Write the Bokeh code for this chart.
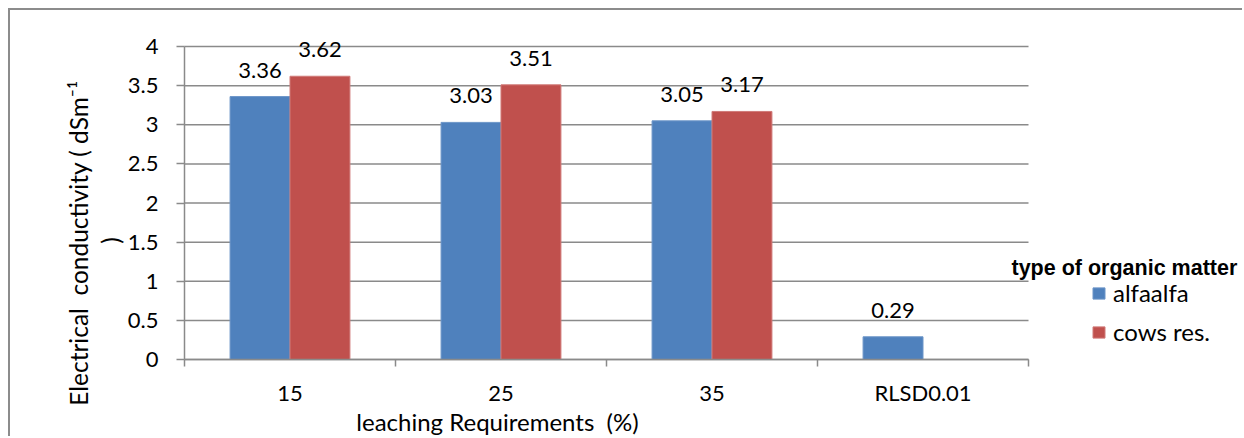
import math
from bokeh.plotting import figure
from bokeh.models import (Range1d, FixedTicker, NumeralTickFormatter, ColumnDataSource,
                          LabelSet, Label, Legend, LegendItem)
from bokeh.core.properties import value
from bokeh.embed import file_html
from bokeh.resources import INLINE

categories = ["15", "25", "35", "RLSD0.01"]
alfaalfa = [3.36, 3.03, 3.05, 0.29]
cows_res = [3.62, 3.51, 3.17, float("nan")]
alfa_labels = ["3.36", "3.03", "3.05", "0.29"]
cows_labels = ["3.62", "3.51", "3.17", ""]
y_ticks = [0, 0.5, 1, 1.5, 2, 2.5, 3, 3.5, 4]

BLUE = "#4F81BD"
RED = "#C0504D"
GRAY = "#8A8A8A"
FONT = "Lato"
NB = "\u00a0"

# canvas placement (px) and frame mapping: the frame covers the whole canvas
CANVAS_W, CANVAS_H = 1234, 428
PX_PER_X, PX_PER_Y = 211.0, 78.25
AXIS_LEFT, AXIS_BOTTOM = 174, 349  # canvas px of data x=0 / data y=0
ORIGIN_X, ORIGIN_Y = 184, 359      # page px of data x=0 / data y=0


def dx(px):
    return (px - ORIGIN_X) / PX_PER_X


def dy(py):
    return (ORIGIN_Y - py) / PX_PER_Y


p = figure(width=CANVAS_W, height=CANVAS_H, output_backend="svg", toolbar_location=None,
           x_range=Range1d(-AXIS_LEFT / PX_PER_X, (CANVAS_W - AXIS_LEFT) / PX_PER_X),
           y_range=Range1d(-(CANVAS_H - AXIS_BOTTOM) / PX_PER_Y, AXIS_BOTTOM / PX_PER_Y),
           min_border=0, min_border_left=0, min_border_right=0, min_border_top=0, min_border_bottom=0)
p.styles = {"margin-left": "8px", "margin-top": "8px",
            "border-left": "2px solid #8C8C8C", "border-top": "2px solid #8C8C8C"}
p.outline_line_color = None
p.xgrid.grid_line_color = None
p.ygrid.grid_line_color = None

n = len(categories)
centers = [i + 0.5 for i in range(n)]

# horizontal gridlines between the axis and the last category
p.segment(x0=[0] * len(y_ticks), x1=[n] * len(y_ticks), y0=y_ticks, y1=y_ticks,
          line_color=GRAY, line_width=1.5)

bw = 0.284
src_a = ColumnDataSource(dict(x=[c - 0.142 for c in centers], y=alfaalfa, lab=alfa_labels))
src_c = ColumnDataSource(dict(x=[c + 0.142 for c in centers],
                              y=[0 if math.isnan(v) else v for v in cows_res],
                              top=cows_res, lab=cows_labels))

r_a = p.vbar(x="x", top="y", width=bw, source=src_a, fill_color=BLUE, line_color="#6C95C8", line_width=1)
r_c = p.vbar(x="x", top="top", width=bw, source=src_c, fill_color=RED, line_color="#D07A78", line_width=1)

for src in (src_a, src_c):
    p.add_layout(LabelSet(x="x", y="y", text="lab", source=src, text_align="center",
                          text_baseline="alphabetic", y_offset=19, text_font=value(FONT),
                          text_font_size="22px", text_color="#000000"))

# axes, drawn at data 0
p.yaxis.fixed_location = 0
p.yaxis.bounds = (0, 4)
p.yaxis.ticker = FixedTicker(ticks=y_ticks)
p.yaxis.formatter = NumeralTickFormatter(format="0.[0]")
p.yaxis.major_label_text_font = FONT
p.yaxis.major_label_text_font_size = "22px"
p.yaxis.major_label_text_color = "#000000"
p.yaxis.major_label_standoff = 18
p.yaxis.major_tick_out = 8
p.yaxis.major_tick_in = 0
p.yaxis.minor_tick_line_color = None
p.yaxis.axis_line_color = GRAY
p.yaxis.major_tick_line_color = GRAY
p.yaxis.axis_line_width = 1.5
p.yaxis.major_tick_line_width = 1.5

p.xaxis.fixed_location = 0
p.xaxis.bounds = (0, n)
p.xaxis.ticker = FixedTicker(ticks=centers, minor_ticks=list(range(n + 1)))
p.xaxis.major_label_overrides = {c: name for c, name in zip(centers, categories)}
p.xaxis.major_label_text_font = FONT
p.xaxis.major_label_text_font_size = "22px"
p.xaxis.major_label_text_color = "#000000"
p.xaxis.major_label_standoff = 12
p.xaxis.major_tick_out = 0
p.xaxis.major_tick_in = 0
p.xaxis.minor_tick_out = 7
p.xaxis.minor_tick_in = 0
p.xaxis.minor_tick_line_color = GRAY
p.xaxis.minor_tick_line_width = 1.5
p.xaxis.axis_line_color = GRAY
p.xaxis.axis_line_width = 1.5

# axis titles
p.add_layout(Label(x=dx(78), y=dy(242.5), text=f"Electrical{NB} conductivity ( dSm\u207b\u00b9",
                   angle=math.pi / 2, text_align="center", text_baseline="middle",
                   text_font=FONT, text_font_size="24.5px", text_color="#000000"))
p.add_layout(Label(x=dx(110), y=dy(240), text=")", angle=math.pi / 2,
                   text_align="center", text_baseline="middle", text_font=FONT,
                   text_font_size="24.5px", text_color="#000000"))
p.add_layout(Label(x=dx(497), y=dy(421), text=f"leaching Requirements{NB} (%)",
                   text_align="center", text_baseline="middle", text_font=FONT,
                   text_font_size="24px", text_color="#000000"))

# legend
p.add_layout(Label(x=dx(1011), y=dy(267), text="type of organic matter",
                   text_align="left", text_baseline="middle", text_font="Liberation Sans",
                   text_font_style="bold", text_font_size="21.5px", text_color="#000000"))
legend = Legend(items=[LegendItem(label="alfaalfa", renderers=[r_a]),
                       LegendItem(label="cows res.", renderers=[r_c])],
                location=(1081, 92), orientation="vertical",
                glyph_width=15, glyph_height=14, label_height=24, label_standoff=7, spacing=10,
                padding=0, margin=0, border_line_color=None, background_fill_alpha=0,
                label_text_font=FONT, label_text_font_size="24px", label_text_color="#000000")
p.add_layout(legend, "center")

open("out.html", "w").write(file_html(p, INLINE))
